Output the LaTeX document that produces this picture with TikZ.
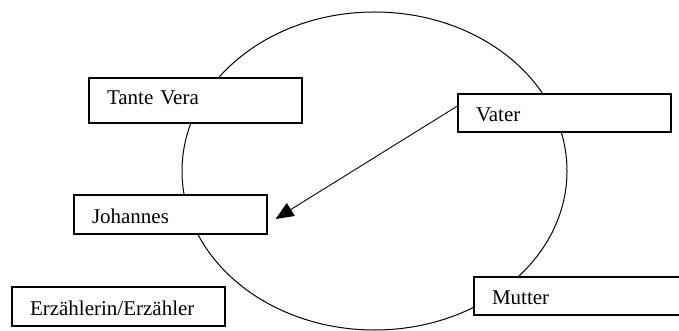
\documentclass[tikz,border=0pt]{standalone}
\usepackage{fontspec}
\setmainfont{Liberation Serif}
\usetikzlibrary{arrows.meta}

\begin{document}
\begin{tikzpicture}[
    x=1pt,y=-1pt,
    namebox/.style={draw=black, fill=white, line width=1.1pt, align=left,
                    text width=#1, inner xsep=18pt, inner ysep=0pt,
                    font={\fontsize{21}{25}\selectfont},
                    text height=17pt, text depth=0pt},
    namebox/.default=177pt,
    circleline/.style={draw=black, line width=1pt},
    pointer/.style={line width=0.9pt, -{Triangle[length=18pt,width=15pt]}}]

    \useasboundingbox (0,0) rectangle (679,331);

    \draw[circleline] (374.5,171) ellipse [x radius=192.5, y radius=159];

    \node[namebox, minimum height=45pt, text depth=8pt] (vera) at (195.5,100.5) {Tante Vera};
    \node[namebox, minimum height=38pt] (vater) at (564.5,113) {Vater};
    \node[namebox=157pt, minimum height=39pt] (johannes) at (170.5,214.5) {Johannes};
    \node[namebox, minimum height=39pt] (erzaehler) at (118.5,306.5) {Erzählerin/Erzähler};
    \node[namebox, minimum height=38pt] (mutter) at (580.5,296) {Mutter};

    \coordinate (tip) at ([xshift=8pt,yshift=-4.5pt]johannes.east);
    \draw[pointer] ([yshift=7pt]vater.west) -- (tip);

\end{tikzpicture}
\end{document}
